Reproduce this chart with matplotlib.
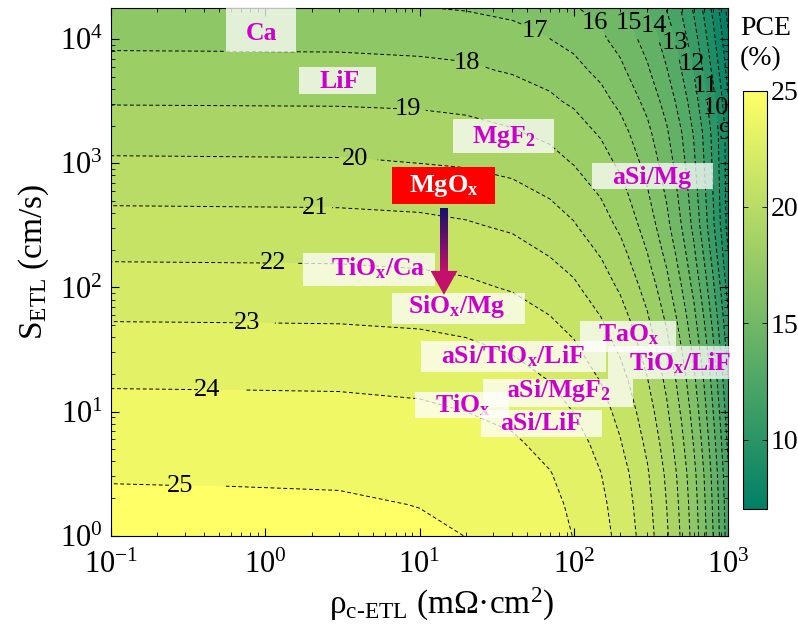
import matplotlib
matplotlib.use("Agg")
import matplotlib.pyplot as plt
import numpy as np
from matplotlib.colors import Normalize, to_rgb
from matplotlib.cm import ScalarMappable
from matplotlib.patches import Rectangle, Polygon
from matplotlib.ticker import LogLocator, NullFormatter

plt.rcParams['font.family'] = ['Liberation Serif', 'DejaVu Serif']
plt.rcParams['mathtext.fontset'] = 'custom'
plt.rcParams['mathtext.rm'] = 'Liberation Serif'
plt.rcParams['mathtext.it'] = 'Liberation Serif:italic'
plt.rcParams['mathtext.bf'] = 'Liberation Serif:bold'

# contact resistivity of the ETL (mOhm cm2)
rho_c = [0.1, 3, 10, 20, 40, 70, 100, 150, 200, 300, 400, 500, 600, 700, 800, 900, 1000]
# surface recombination velocity at the ETL (cm/s)
s_etl = [1, 1.778, 3.162, 5.623, 10, 17.78, 31.62, 56.23, 100, 177.8, 316.2, 562.3,
         1000, 1778, 3162, 5623, 10000, 17783]
# simulated PCE (%), one row per s_etl value
pce = np.array([
    [25.25, 25.21, 25.12, 24.99, 24.74, 24.35, 23.97, 23.33, 22.69, 21.41, 20.13, 18.85, 17.57, 16.29, 15.01, 13.73, 12.45],
    [25.11, 25.07, 24.98, 24.85, 24.60, 24.21, 23.83, 23.19, 22.55, 21.27, 19.99, 18.71, 17.43, 16.15, 14.87, 13.59, 12.31],
    [24.93, 24.89, 24.80, 24.67, 24.42, 24.03, 23.65, 23.01, 22.37, 21.09, 19.81, 18.53, 17.25, 15.97, 14.69, 13.41, 12.13],
    [24.61, 24.57, 24.48, 24.35, 24.10, 23.71, 23.33, 22.69, 22.05, 20.77, 19.49, 18.21, 16.93, 15.65, 14.37, 13.09, 11.81],
    [24.26, 24.22, 24.13, 24.00, 23.75, 23.36, 22.98, 22.34, 21.70, 20.42, 19.14, 17.86, 16.58, 15.30, 14.02, 12.74, 11.46],
    [23.88, 23.84, 23.75, 23.62, 23.37, 22.98, 22.60, 21.96, 21.32, 20.04, 18.76, 17.48, 16.20, 14.92, 13.64, 12.36, 11.08],
    [23.41, 23.37, 23.28, 23.15, 22.90, 22.51, 22.13, 21.49, 20.85, 19.57, 18.29, 17.01, 15.73, 14.45, 13.17, 11.89, 10.61],
    [22.94, 22.90, 22.81, 22.68, 22.43, 22.04, 21.66, 21.02, 20.38, 19.10, 17.82, 16.54, 15.26, 13.98, 12.70, 11.42, 10.14],
    [22.41, 22.37, 22.28, 22.15, 21.90, 21.51, 21.13, 20.49, 19.85, 18.57, 17.29, 16.01, 14.73, 13.45, 12.17, 10.89, 9.61],
    [21.89, 21.85, 21.76, 21.63, 21.38, 20.99, 20.61, 19.97, 19.33, 18.05, 16.77, 15.49, 14.21, 12.93, 11.65, 10.37, 9.09],
    [21.33, 21.29, 21.20, 21.08, 20.82, 20.44, 20.06, 19.42, 18.79, 17.52, 16.25, 14.98, 13.71, 12.44, 11.17, 9.90, 8.63],
    [20.75, 20.71, 20.63, 20.51, 20.26, 19.90, 19.53, 18.92, 18.31, 17.09, 15.87, 14.65, 13.43, 12.21, 10.99, 9.77, 8.55],
    [20.12, 20.09, 20.00, 19.89, 19.66, 19.31, 18.96, 18.38, 17.80, 16.64, 15.48, 14.32, 13.16, 12.00, 10.84, 9.68, 8.52],
    [19.51, 19.48, 19.40, 19.29, 19.07, 18.74, 18.41, 17.86, 17.31, 16.21, 15.11, 14.01, 12.91, 11.81, 10.71, 9.61, 8.51],
    [18.91, 18.88, 18.80, 18.69, 18.48, 18.15, 17.83, 17.29, 16.75, 15.67, 14.59, 13.51, 12.43, 11.35, 10.27, 9.19, 8.11],
    [18.33, 18.30, 18.22, 18.12, 17.90, 17.58, 17.26, 16.72, 16.19, 15.12, 14.05, 12.98, 11.91, 10.84, 9.77, 8.70, 7.63],
    [17.75, 17.72, 17.64, 17.54, 17.33, 17.01, 16.69, 16.16, 15.63, 14.57, 13.51, 12.45, 11.39, 10.33, 9.27, 8.21, 7.15],
    [17.14, 17.11, 17.03, 16.93, 16.72, 16.40, 16.09, 15.56, 15.04, 13.99, 12.94, 11.89, 10.84, 9.79, 8.74, 7.69, 6.64],
])

contour_levels = list(range(7, 26))
label_levels = list(range(25, 8, -1))

# ETL materials from literature
materials = ['Ca', 'LiF', 'MgF$_\\mathbf{2}$', 'aSi/Mg', 'TiO$_\\mathbf{x}$/Ca', 'SiO$_\\mathbf{x}$/Mg',
             'TaO$_\\mathbf{x}$', 'aSi/TiO$_\\mathbf{x}$/LiF', 'TiO$_\\mathbf{x}$/LiF',
             'aSi/MgF$_\\mathbf{2}$', 'TiO$_\\mathbf{x}$', 'aSi/LiF']

# where each contour label sits (rho, S)
label_spots = [(0.28, 2.56), (0.42, 15.2), (0.76, 53), (1.12, 155), (2.1, 439), (3.8, 1071),
               (8.4, 2711), (20, 5912), (58, 12670), (131, 12670), (205, 12670), (317, 12670),
               (421, 9060), (551, 6250), (678, 4150), (824, 2812), (970, 1772)]

# text anchor and background box (rho0, rho1, S0, S1) for every material
text_spots = [(0.94, 11200), (3.05, 4560), (35.3, 1640), (322, 765), (5.4, 144), (17.5, 70),
              (228, 42), (40.4, 28.2), (489, 24.7), (79, 14.9), (19.1, 11.3), (61.3, 7.95)]
boxes = [(0.557, 1.58, 7960, 17800), (1.655, 5.22, 3648, 6026), (16.5, 74.5, 1220, 2294),
         (131, 800, 625, 1013), (1.757, 12.6, 103.2, 190.5), (6.63, 48.3, 50.95, 90.6),
         (109.8, 460, 30.3, 53.9), (10.23, 161.8, 20.9, 37.2), (166.8, 1348, 18.35, 33.9),
         (25.8, 242, 10.9, 18.35), (9.35, 38.0, 8.9, 14.4), (25.0, 152.5, 6.25, 10.3)]

fig = plt.figure(figsize=(7.98, 6.41), dpi=100)
ax = fig.add_axes([0.1391, 0.1643, 0.7732, 0.8228])
ax.set_xscale('log')
ax.set_yscale('log')

cmap = plt.get_cmap('summer')
norm = Normalize(vmin=7, vmax=25)

# each band takes the colour of its lower level
fill_levels = np.arange(6, 27)
fill_colors = [cmap(norm(max(lv, 7))) for lv in fill_levels[:-1]]
ax.contourf(rho_c, s_etl, pce, levels=fill_levels, colors=fill_colors, antialiased=False)

# one contour set per level so each label lands on its own line
spots = dict(zip(label_levels, label_spots))
for lev in contour_levels:
    cs = ax.contour(rho_c, s_etl, pce, levels=[lev], colors='k', linewidths=0.7,
                    linestyles=[(0, (4, 2.6))])
    if lev in spots:
        ax.clabel(cs, manual=[spots[lev]], inline=True, inline_spacing=3,
                  fmt='%d', fontsize=19, colors='k')
        for t in cs.labelTexts:
            t.set_rotation(0)

ax.set_xlim(0.1, 1000)
ax.set_ylim(1, 10 ** 4.25)

for i, (name, (tx, ty), (x0, x1, y0, y1)) in enumerate(zip(materials, text_spots, boxes)):
    z = 5 + i * 0.01
    ax.add_patch(Rectangle((x0, y0), x1 - x0, y1 - y0, facecolor='white', edgecolor='none',
                           alpha=0.75, zorder=z, clip_on=False))
    ax.text(tx, ty, name, color='#cc00cc', fontsize=18.5, fontweight='bold',
            ha='center', va='center', zorder=z + 0.005, clip_on=False)

# the highlighted MgOx contact
ax.add_patch(Rectangle((6.63, 473), 30.87 - 6.63, 940.6 - 473, facecolor='#ff0000',
                       edgecolor='none', zorder=6))
ax.text(14.4, 660, 'MgO$_\\mathbf{x}$', color='white', fontsize=19, fontweight='bold',
        ha='center', va='center', zorder=6.1)

# gradient arrow from MgOx down to its improved position
top_c = np.array(to_rgb('#16106e'))
bot_c = np.array(to_rgb('#c2106c'))
steps = np.linspace(np.log10(440), np.log10(133), 41)
for k in range(40):
    f = k / 39
    c = (1 - f) * top_c + f * bot_c
    ax.add_patch(Rectangle((13.6, 10 ** steps[k + 1]), 15.3 - 13.6,
                           10 ** steps[k] - 10 ** steps[k + 1],
                           facecolor=c, edgecolor='none', zorder=6))
ax.add_patch(Polygon([(11.8, 136), (17.6, 136), (14.4, 87.3)], closed=True,
                     facecolor='#c2106c', edgecolor='none', zorder=6))

ax.tick_params(which='both', direction='in', top=True, right=True, labelsize=22)
ax.tick_params(which='major', length=6, width=0.8)
ax.tick_params(which='minor', length=3, width=0.6)
ax.tick_params(axis='x', pad=11)
ax.tick_params(axis='y', pad=6)
ax.xaxis.set_major_locator(LogLocator(base=10, numticks=10))
ax.yaxis.set_major_locator(LogLocator(base=10, numticks=10))
for a in (ax.xaxis, ax.yaxis):
    a.set_minor_locator(LogLocator(base=10, subs=np.arange(2, 10), numticks=100))
    a.set_minor_formatter(NullFormatter())
for sp in ax.spines.values():
    sp.set_linewidth(0.8)

ax.set_xlabel('ρ$_{\\mathrm{c\\text{-}ETL}}$ (mΩ·cm$^\\mathrm{2}$)', fontsize=24)
ax.xaxis.set_label_coords(0.536, -0.095)
ax.set_ylabel('S$_{\\mathrm{ETL}}$ (cm/s)', fontsize=24)
ax.yaxis.set_label_coords(-0.097, 0.52)

cax = fig.add_axes([0.9307, 0.2055, 0.0301, 0.6530])
cb = fig.colorbar(ScalarMappable(norm=norm, cmap=cmap), cax=cax)
cb.set_ticks([10, 15, 20, 25])
cb.outline.set_linewidth(0.8)
cax.tick_params(direction='in', labelsize=20, length=3.5, width=0.6, left=True, right=True, pad=3)
fig.text(0.927, 0.955, 'PCE', fontsize=20, va='center', ha='left')
fig.text(0.927, 0.909, '(%)', fontsize=20, va='center', ha='left')

fig.savefig('out.png', dpi=100)
